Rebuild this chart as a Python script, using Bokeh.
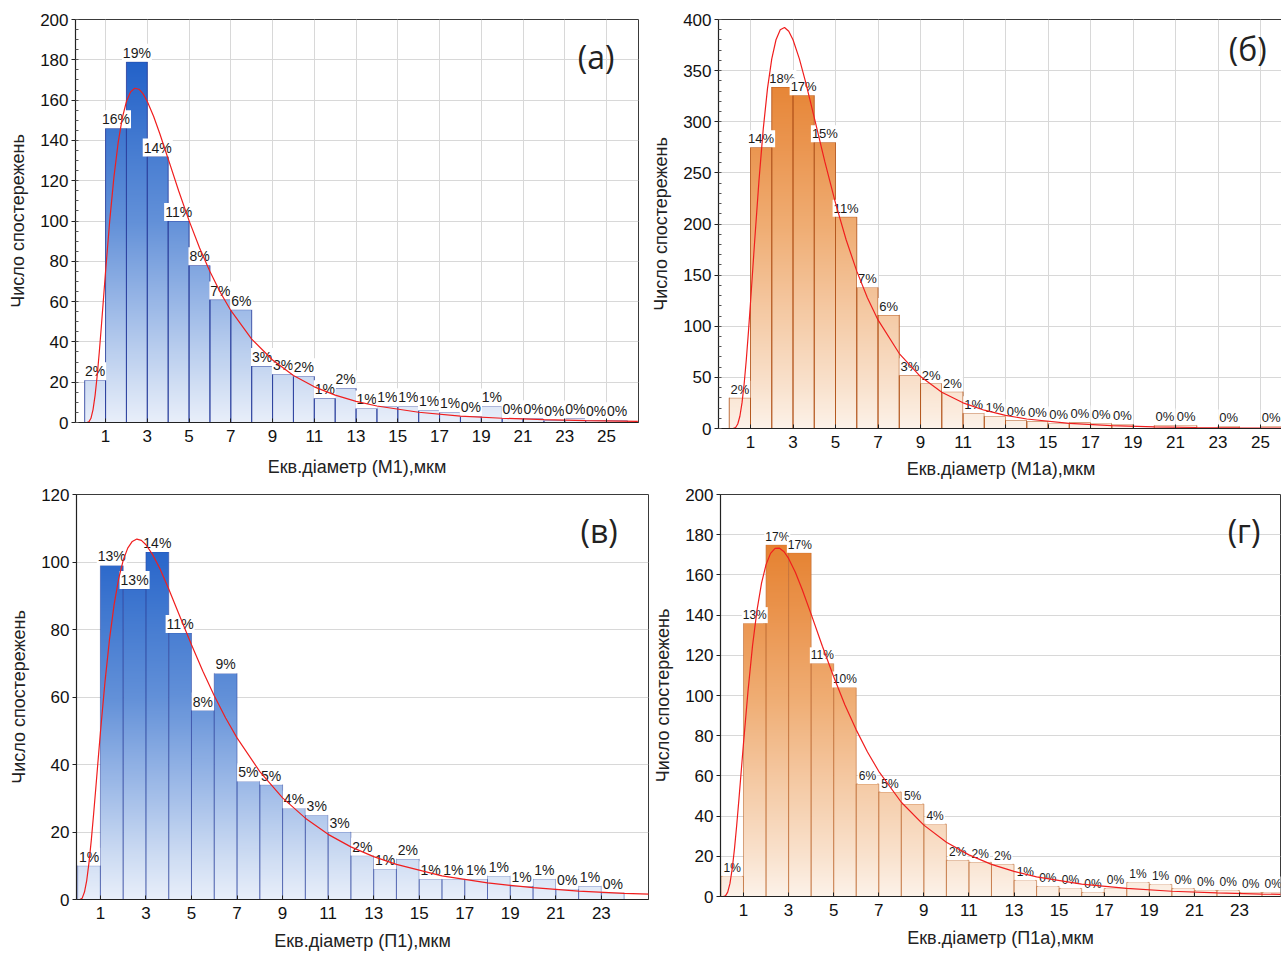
import numpy as np
from bokeh.plotting import figure
from bokeh.layouts import column, row
from bokeh.models import FixedTicker, Label, Range1d
from bokeh.embed import file_html
from bokeh.resources import INLINE
from bokeh.core.properties import value

# ---------------- data ----------------
counts_a = [21, 146, 179, 132, 100, 78, 61, 56, 28, 24, 23, 12, 17, 7, 8, 8, 6, 5, 3, 8, 2, 2, 1, 2, 1, 1]
labels_a = ["2%", "16%", "19%", "14%", "11%", "8%", "7%", "6%", "3%", "3%", "2%", "1%", "2%",
            "1%", "1%", "1%", "1%", "1%", "0%", "1%", "0%", "0%", "0%", "0%", "0%", "0%"]

counts_b = [30, 275, 334, 326, 280, 207, 138, 111, 52, 44, 36, 15, 12, 8, 7, 5, 6, 5, 4, 0, 3, 3, 0, 2, 0, 2]
labels_b = ["2%", "14%", "18%", "17%", "15%", "11%", "7%", "6%", "3%", "2%", "2%", "1%", "1%",
            "0%", "0%", "0%", "0%", "0%", "0%", "", "0%", "0%", "", "0%", "", "0%"]

counts_c = [10, 99, 92, 103, 79, 56, 67, 35, 34, 27, 25, 20, 13, 9, 12, 6, 6, 6, 7, 4, 6, 3, 4, 2]
labels_c = ["1%", "13%", "13%", "14%", "11%", "8%", "9%", "5%", "5%", "4%", "3%", "3%", "2%",
            "1%", "2%", "1%", "1%", "1%", "1%", "1%", "1%", "0%", "1%", "0%"]

counts_d = [10, 136, 175, 171, 116, 104, 56, 52, 46, 36, 18, 17, 16, 8, 5, 4, 2, 4, 7, 6, 4, 3, 3, 2, 2]
labels_d = ["1%", "13%", "17%", "17%", "11%", "10%", "6%", "5%", "5%", "4%", "2%", "2%", "2%",
            "1%", "0%", "0%", "0%", "0%", "1%", "1%", "0%", "0%", "0%", "0%", "0%"]

# fitted distribution curves
curve_x = [0.1, 0.2, 0.3, 0.4, 0.5, 0.6, 0.7, 0.8, 0.9, 1.0, 1.2, 1.4, 1.6, 1.8, 2.0, 2.2, 2.4, 2.6,
           2.8, 3.0, 3.3, 3.6, 4.0, 4.5, 5.0, 5.5, 6.0, 6.5, 7.0, 8.0, 9.0, 10, 11, 12, 13, 14, 16,
           18, 20, 22, 24, 26.5]
curve_a = [0.0, 0.3, 2.1, 6.4, 13.6, 23.3, 35.0, 47.9, 61.4, 74.9, 100.2, 121.7, 138.6, 151.1, 159.3,
           164.1, 165.9, 165.4, 163.1, 159.3, 152.0, 143.3, 130.8, 115.0, 100.2, 86.7, 74.9, 64.5,
           55.6, 41.4, 31.0, 23.3, 17.7, 13.6, 10.5, 8.2, 5.1, 3.2, 2.1, 1.4, 0.9, 0.6]
curve_b = [0.0, 0.1, 1.0, 4.4, 12.0, 25.0, 43.5, 66.8, 93.8, 123.2, 184.6, 242.9, 293.0, 332.7, 361.5,
           380.2, 389.9, 392.2, 388.5, 380.2, 361.5, 338.3, 304.0, 260.7, 220.4, 184.6, 153.9, 127.9,
           106.2, 73.3, 50.8, 35.5, 25.1, 17.9, 12.8, 9.3, 5.1, 2.8, 1.6, 1.0, 0.6, 0.3]
curve_c = [0.0, 0.4, 2.2, 5.7, 11.0, 17.6, 25.2, 33.2, 41.4, 49.5, 64.4, 77.1, 87.3, 95.0, 100.5,
           104.1, 106.1, 106.8, 106.4, 105.1, 102.1, 98.2, 92.0, 83.7, 75.5, 67.6, 60.4, 53.8, 47.9,
           37.9, 30.1, 24.1, 19.3, 15.6, 12.7, 10.4, 7.0, 4.9, 3.5, 2.5, 1.8, 1.3]
curve_d = [0.0, 0.3, 2.2, 6.5, 13.8, 23.7, 35.6, 48.7, 62.4, 76.2, 102.2, 124.7, 142.5, 155.9, 165.1,
           170.7, 173.2, 173.3, 171.5, 168.2, 161.3, 152.9, 140.5, 124.5, 109.3, 95.3, 82.9, 71.9,
           62.3, 46.9, 35.5, 27.0, 20.7, 16.0, 12.5, 9.8, 6.2, 4.0, 2.6, 1.8, 1.2, 0.8]

xticks_ab = [1, 3, 5, 7, 9, 11, 13, 15, 17, 19, 21, 23, 25]
xticks_cd = [1, 3, 5, 7, 9, 11, 13, 15, 17, 19, 21, 23]
yticks_a = [0, 20, 40, 60, 80, 100, 120, 140, 160, 180, 200]
yticks_b = [0, 50, 100, 150, 200, 250, 300, 350, 400]
yticks_c = [0, 20, 40, 60, 80, 100, 120]
yticks_d = [0, 20, 40, 60, 80, 100, 120, 140, 160, 180, 200]

ytitle = "Число спостережень"
xtitle_a = "Екв.діаметр (М1),мкм"
xtitle_b = "Екв.діаметр (М1а),мкм"
xtitle_c = "Екв.діаметр (П1),мкм"
xtitle_d = "Екв.діаметр (П1а),мкм"

# ---------------- styles ----------------
BLUE = [(0.0, (233, 239, 250)), (0.1, (207, 221, 243)), (0.3, (152, 182, 230)),
        (0.5, (98, 144, 216)), (0.7, (66, 121, 208)), (0.9, (33, 96, 200)), (1.0, (24, 86, 196))]
ORANGE = [(0.0, (252, 242, 233)), (0.1, (249, 226, 206)), (0.3, (244, 199, 160)),
          (0.5, (239, 172, 114)), (0.7, (234, 148, 78)), (0.85, (230, 132, 52)), (1.0, (226, 120, 36))]
FONT = "Liberation Sans"


def lerp(stops, t):
    t = min(max(t, 0.0), 1.0)
    for (t0, c0), (t1, c1) in zip(stops[:-1], stops[1:]):
        if t <= t1:
            f = (t - t0) / (t1 - t0)
            return tuple(int(round(a + (b - a) * f)) for a, b in zip(c0, c1))
    return stops[-1][1]


def bar_image(h, ymax, stops):
    n = max(2, int(round(h / ymax * 400)))
    img = np.empty((n, 1), dtype=np.uint32)
    v = img.view(dtype=np.uint8).reshape((n, 1, 4))
    for r in range(n):
        c = lerp(stops, (r + 0.5) / n * h / ymax)
        v[r, 0, 0], v[r, 0, 1], v[r, 0, 2], v[r, 0, 3] = c[0], c[1], c[2], 255
    return img


def panel(counts, labels, curve_y, xr, ymax, xticks, yticks, minor_y, stops, edge, edge_alpha,
          vgrid, letter, letter_xy, xtitle, fw, fh, bl, br, bt, bb, x_standoff, pct_size):
    p = figure(frame_width=fw, frame_height=fh, min_border_left=bl, min_border_right=br,
               min_border_top=bt, min_border_bottom=bb, x_range=Range1d(*xr),
               y_range=Range1d(0, ymax), output_backend="svg", toolbar_location=None)
    p.background_fill_color = "white"
    p.border_fill_color = "white"
    p.outline_line_color = "#3a3a3a"
    p.outline_line_width = 1

    lefts = [i for i, c in enumerate(counts) if c > 0]
    hs = [counts[i] for i in lefts]
    imgs = [bar_image(h, ymax, stops) for h in hs]
    p.image_rgba(image=imgs, x=lefts, y=[0] * len(lefts), dw=[1] * len(lefts), dh=hs)
    p.quad(left=lefts, right=[l + 1 for l in lefts], bottom=[0] * len(lefts), top=hs,
           fill_alpha=0, line_color=edge, line_alpha=edge_alpha, line_width=1)

    li = [i for i, t in enumerate(labels) if t]
    p.text(x=[i + 0.5 for i in li], y=[counts[i] for i in li], text=[labels[i] for i in li],
           text_align="center", text_baseline="bottom", text_font=value(FONT),
           text_font_size=pct_size, text_color="#1a1a1a", background_fill_color="white",
           background_fill_alpha=1.0, padding=1)

    p.line(curve_x, curve_y, line_color="#f01e1e", line_width=1.2)

    p.add_layout(Label(x=letter_xy[0], y=letter_xy[1], text=letter, text_font="Open Sans",
                       text_font_size="32px", text_color="#222222", text_align="center",
                       text_baseline="middle"))

    p.xaxis.ticker = FixedTicker(ticks=xticks, minor_ticks=[])
    p.yaxis.ticker = FixedTicker(ticks=yticks, minor_ticks=minor_y)
    for ax in (p.xaxis, p.yaxis):
        ax.axis_line_color = "#222222"
        ax.axis_line_width = 1.2
        ax.major_tick_line_color = "#222222"
        ax.minor_tick_line_color = "#555555"
        ax.major_label_text_font = FONT
        ax.major_label_text_font_size = "17px"
        ax.major_label_text_color = "#111111"
        ax.axis_label_text_font = FONT
        ax.axis_label_text_font_size = "18px"
        ax.axis_label_text_font_style = "normal"
        ax.axis_label_text_color = "#222222"
    p.xaxis.major_tick_in = 4
    p.xaxis.major_tick_out = 0
    p.xaxis.major_label_standoff = 7
    p.xaxis.axis_label = xtitle
    p.xaxis.axis_label_standoff = x_standoff
    p.yaxis.major_tick_in = 0
    p.yaxis.major_tick_out = 4
    p.yaxis.minor_tick_in = 3
    p.yaxis.minor_tick_out = 0
    p.yaxis.major_label_standoff = 3
    p.yaxis.axis_label = ytitle
    p.yaxis.axis_label_standoff = 9

    p.ygrid.grid_line_color = "#d8d8d8"
    p.xgrid.grid_line_color = "#d8d8d8" if vgrid else None
    return p


pa = panel(counts_a, labels_a, curve_a, (-0.44, 26.53), 200, xticks_ab, yticks_a,
           [5 * k for k in range(41)], BLUE, "#2a3f9e", 0.85, True, "(а)", (24.5, 181.5),
           xtitle_a, 563, 403, 75, 10, 18, 62, 12, "14px")
pb = panel(counts_b, labels_b, curve_b, (-0.506, 26.08), 400, xticks_ab, yticks_b,
           [10 * k for k in range(41)], ORANGE, "#b4561c", 0.85, True, "(б)", (24.4, 372),
           xtitle_b, 565, 409, 66, 1, 19, 55, 8, "13px")
pc = panel(counts_c, labels_c, curve_c, (-0.05, 25.07), 120, xticks_cd, yticks_c,
           [], BLUE, "#2a3f9e", 0.5, False, "(в)", (22.9, 109.3),
           xtitle_c, 572, 405, 76, 2, 8, 57, 9, "14px")
pd = panel(counts_d, labels_d, curve_d, (-0.02, 24.82), 200, xticks_cd, yticks_d,
           [], ORANGE, "#c06a34", 0.6, False, "(г)", (23.2, 182),
           xtitle_d, 560, 402, 69, 1, 11, 57, 9, "12px")

layout = column(row(pa, pb, spacing=0), row(pc, pd, spacing=0), spacing=0)
open("out.html", "w").write(file_html(layout, INLINE))
